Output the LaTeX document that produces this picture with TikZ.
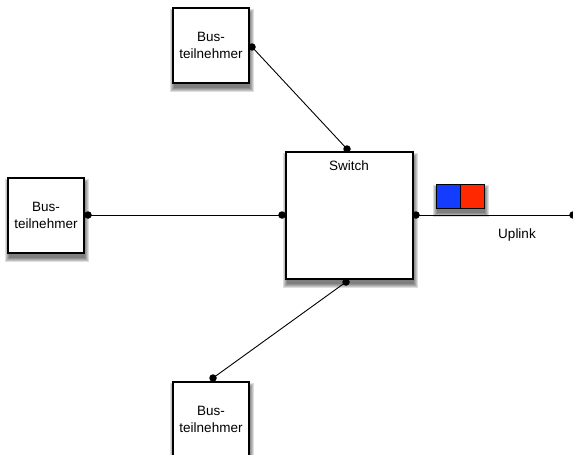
\documentclass[tikz,border=0pt]{standalone}
\usepackage{fontspec}
\setmainfont{Liberation Sans}
\begin{document}
\begin{tikzpicture}[x=1pt,y=-1pt,
  box/.style={draw, line width=1.1pt, fill=white, minimum width=76pt, minimum height=75pt, inner sep=0pt},
  sw/.style={draw, line width=1.1pt, fill=white, minimum width=127pt, minimum height=127pt, inner sep=0pt},
  lbl/.style={font=\fontsize{13.5}{17}\selectfont, align=center},
  dot/.style={circle, fill=black, inner sep=0pt, minimum size=7.5pt},
  conn/.style={line width=0.9pt},
  shd/.style={fill=black, opacity=0.13}]
\useasboundingbox (0,0) rectangle (573,455);
% soft shadows
\foreach \x/\y/\w/\h in {173/8/76/75, 8/178/76/75, 173/382/76/75, 286/152/127/127, 436/184/48/24} {
  \foreach \i in {0,1,2,3,4} {
    \fill[shd] (\x+1-4+\i,\y+5-4+\i) rectangle (\x+\w+1+4-\i,\y+\h+5+4-\i);
  }
}
\node[box, lbl] (b1) at (211,45.5) {Bus-\\teilnehmer};
\node[box, lbl] (b2) at (46,215.5) {Bus-\\teilnehmer};
\node[box, lbl] (b3) at (211,419.5) {Bus-\\teilnehmer};
\node[sw] (s) at (349.5,215.5) {};
\node[lbl, anchor=base] (st) at (349,170) {Switch};
\coordinate (d1) at (252,47);
\coordinate (d2) at (88,215);
\coordinate (d3) at (213,378);
\coordinate (s1) at (347,149);
\coordinate (s2) at (282,215);
\coordinate (s3) at (346,282);
\coordinate (s4) at (416,215);
\coordinate (u) at (573,215);
\draw[conn] (d1) -- (s1);
\draw[conn] (d2) -- (s2);
\draw[conn] (d3) -- (s3);
\draw[conn] (s4) -- (u);
\foreach \p in {d1,d2,d3,s1,s2,s3,s4,u} \node[dot] at (\p) {};
\node[lbl, anchor=base] (ul) at (517,238) {Uplink};
\node[draw, line width=1pt, fill={rgb,255:red,20;green,60;blue,255}, minimum width=24pt, minimum height=24pt, inner sep=0pt] (q1) at (448,196) {};
\node[draw, line width=1pt, fill={rgb,255:red,255;green,40;blue,0}, minimum width=24pt, minimum height=24pt, inner sep=0pt] (q2) at (472,196) {};
\end{tikzpicture}
\end{document}
